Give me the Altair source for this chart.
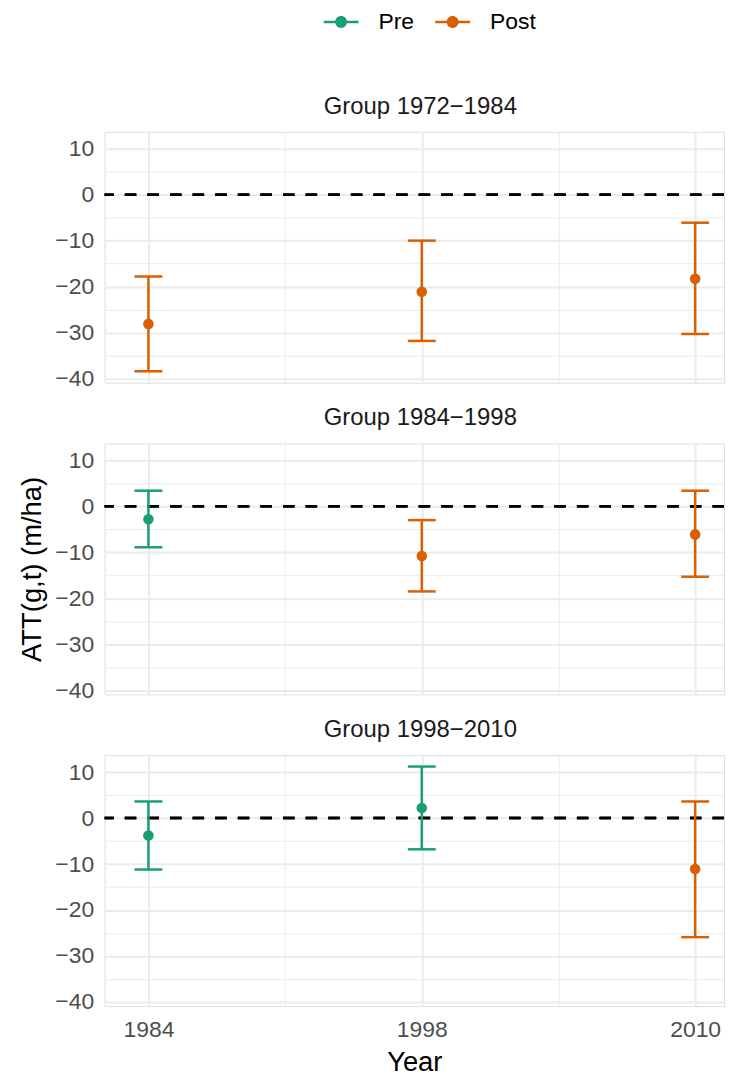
import altair as alt
import pandas as pd

# ---- data ----
group_names = ["Group 1972−1984", "Group 1984−1998", "Group 1998−2010"]
groups = [group_names[0]] * 3 + [group_names[1]] * 3 + [group_names[2]] * 3
year_labels = ["1984", "1998", "2010"]
year_idx = [1, 2, 3, 1, 2, 3, 1, 2, 3]
est = [-28.1, -21.1, -18.3, -2.8, -10.8, -6.1, -3.8, 2.2, -11.1]
lower = [-38.4, -31.8, -30.3, -8.9, -18.5, -15.3, -11.2, -6.8, -25.9]
upper = [-17.8, -10.0, -6.1, 3.4, -3.0, 3.4, 3.6, 11.2, 3.6]
period = ["Post", "Post", "Post", "Pre", "Post", "Post", "Pre", "Pre", "Post"]

df = pd.DataFrame({
    "group": groups, "idx": year_idx, "est": est,
    "lower": lower, "upper": upper, "type": period,
})

FONT = "Liberation Sans"
GRID = "#EBEBEB"
color_scale = alt.Scale(domain=["Pre", "Post"], range=["#1B9E77", "#D95F02"])

x_label_expr = " : ".join(
    [f"datum.value == {i + 1} ? '{lab}'" for i, lab in enumerate(year_labels)]
) + " : ''"

# line-with-dot legend glyph (drawn wider than its layout box)
legend_symbol = ("M-1.52,-0.107L1.52,-0.107L1.52,0.107L-1.52,0.107Z "
                 "M0.52,0A0.52,0.52,0,1,1,-0.52,0A0.52,0.52,0,1,1,0.52,0Z")


def panel(g, show_x, show_ytitle):
    base = alt.Chart(df).transform_filter(alt.datum.group == g)
    x_axis = alt.Axis(
        values=[1, 1.5, 2, 2.5, 3], labelExpr=x_label_expr, labels=show_x,
        title="Year" if show_x else None,
        grid=True, gridColor=GRID,
        gridWidth={"condition": {"test": "datum.value % 1 != 0", "value": 1}, "value": 2},
        ticks=False, tickSize=0, domain=False,
        labelFontSize=23, labelColor="#4D4D4D", labelPadding=13, labelFont=FONT,
        titleFontSize=27.5, titleColor="black", titleFontWeight="normal",
        titleFont=FONT, titlePadding=7,
    )
    y_axis = alt.Axis(
        values=[10, 5, 0, -5, -10, -15, -20, -25, -30, -35, -40],
        labelExpr="datum.value % 10 == 0 ? datum.label : ''",
        title="ATT(g,t) (m/ha)", titleOpacity=1 if show_ytitle else 0,
        grid=True, gridColor=GRID,
        gridWidth={"condition": {"test": "datum.value % 10 != 0", "value": 1}, "value": 2},
        ticks=False, tickSize=0, domain=False,
        labelFontSize=23, labelColor="#4D4D4D", labelPadding=11, labelFont=FONT,
        titleFontSize=27.5, titleColor="black", titleFontWeight="normal",
        titleFont=FONT, titlePadding=8,
    )
    xs = alt.Scale(domain=[0.8397, 3.1056], nice=False, zero=False)
    ys = alt.Scale(domain=[-40.88, 13.68], nice=False, zero=False)
    x = alt.X("idx:Q", scale=xs, axis=x_axis)
    col_nolegend = alt.Color("type:N", scale=color_scale, legend=None)
    col_legend = alt.Color(
        "type:N", scale=color_scale,
        legend=alt.Legend(
            title=None, orient="none", legendX=226, legendY=-122, padding=0,
            direction="horizontal", symbolType=legend_symbol, symbolSize=529,
            symbolStrokeWidth=0, symbolOpacity=1, labelFontSize=23,
            labelColor="black", labelFont=FONT, labelOffset=26, columnPadding=21,
        ),
    )

    zero = base.mark_rule(color="black", strokeWidth=2.5, strokeDash=[11.5, 11.2]).encode(
        y=alt.Y(datum=0, scale=ys, axis=y_axis)
    )
    pts = base.mark_circle(size=113, opacity=1).encode(
        x=x, y=alt.Y("est:Q", scale=ys, axis=y_axis), color=col_legend
    )
    bars = base.mark_rule(strokeWidth=2.5).encode(
        x=x, y=alt.Y("lower:Q", scale=ys, axis=y_axis), y2="upper:Q", color=col_nolegend
    )
    cap_lo = base.mark_tick(orient="horizontal", size=28, thickness=2.5, opacity=1).encode(
        x=x, y=alt.Y("lower:Q", scale=ys, axis=y_axis), color=col_nolegend
    )
    cap_hi = base.mark_tick(orient="horizontal", size=28, thickness=2.5, opacity=1).encode(
        x=x, y=alt.Y("upper:Q", scale=ys, axis=y_axis), color=col_nolegend
    )
    return alt.layer(zero, pts, bars, cap_lo, cap_hi).properties(
        width=622, height=252,
        title=alt.TitleParams(text=g, fontSize=24, color="#1A1A1A", fontWeight="normal",
                              anchor="middle", offset=13, dx=6, font=FONT),
    )


chart = alt.vconcat(
    panel(group_names[0], False, False),
    panel(group_names[1], False, True),
    panel(group_names[2], True, False),
    spacing=14,
).properties(
    padding={"left": 10, "top": 0, "right": 0, "bottom": 0}
).configure_view(stroke=None).configure(font=FONT)

chart.save("out.html", embed_options={"renderer": "svg", "actions": False})
